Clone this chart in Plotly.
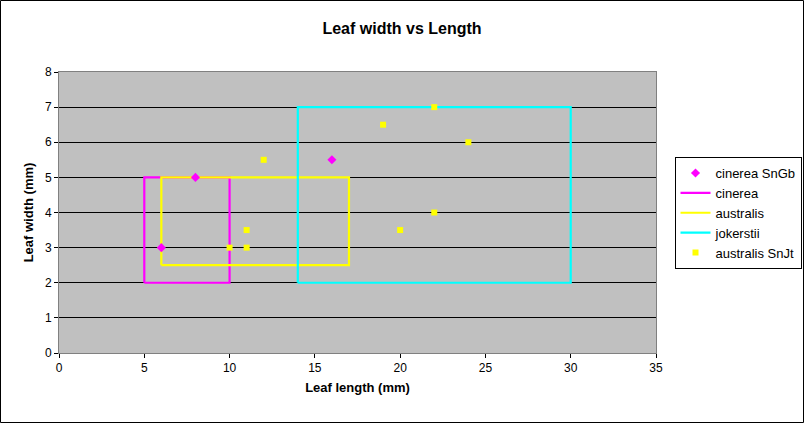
import plotly.graph_objects as go

# cinerea SnGb specimens
sngb_length = [6, 8, 16]
sngb_width = [3, 5, 5.5]

# australis SnJt specimens
snjt_length = [10, 11, 11, 12, 19, 20, 22, 22, 24]
snjt_width = [3, 3, 3.5, 5.5, 6.5, 3.5, 7, 4, 6]

# published ranges (length min/max, width min/max)
cinerea_len = [5, 10]
cinerea_wid = [2, 5]
australis_len = [6, 17]
australis_wid = [2.5, 5]
jokerstii_len = [14, 30]
jokerstii_wid = [2, 7]


def box(xr, yr):
    return [xr[0], xr[0], xr[1], xr[1], xr[0]], [yr[0], yr[1], yr[1], yr[0], yr[0]]


fig = go.Figure()

for name, xr, yr, col, rank in [
    ("cinerea", cinerea_len, cinerea_wid, "#FF00FF", 2),
    ("australis", australis_len, australis_wid, "#FFFF00", 3),
    ("jokerstii", jokerstii_len, jokerstii_wid, "#00FFFF", 4),
]:
    bx, by = box(xr, yr)
    fig.add_trace(go.Scatter(x=bx, y=by, mode="lines", name=name, legendrank=rank,
                             line=dict(color=col, width=2.2)))

fig.add_trace(go.Scatter(x=snjt_length, y=snjt_width, mode="markers", name="australis SnJt",
                         legendrank=5, marker=dict(symbol="square", size=6, color="#FFFF00")))
fig.add_trace(go.Scatter(x=sngb_length, y=sngb_width, mode="markers", name="cinerea SnGb",
                         legendrank=1, marker=dict(symbol="diamond", size=7, color="#FF00FF")))

fig.update_layout(
    width=804, height=423,
    margin=dict(l=59, r=148, t=72, b=70, autoexpand=False),
    paper_bgcolor="white",
    plot_bgcolor="#C0C0C0",
    font=dict(family="Arial, Liberation Sans", size=12, color="black"),
    title=dict(text="<b>Leaf width vs Length</b>", x=0.5, xanchor="center",
               y=1 - 28 / 423, yanchor="middle", font=dict(size=16)),
    showlegend=True,
    legend=dict(x=1.031, xanchor="left", y=0.6975, yanchor="top",
                bgcolor="white", bordercolor="black", borderwidth=1,
                font=dict(size=13), tracegroupgap=0, itemwidth=30),
    xaxis=dict(range=[0, 35], dtick=5, showgrid=False, zeroline=False,
               ticks="outside", ticklen=4, tickcolor="black",
               showline=True, linecolor="#808080", linewidth=1, mirror=True,
               title=dict(text="<b>Leaf length (mm)</b>", font=dict(size=13), standoff=8)),
    yaxis=dict(range=[0, 8], dtick=1, showgrid=True, gridcolor="black", gridwidth=1,
               zeroline=False, ticks="outside", ticklen=4, tickcolor="black",
               showline=True, linecolor="#808080", linewidth=1, mirror=True,
               title=dict(text="<b>Leaf width (mm)</b>", font=dict(size=13), standoff=8)),
    shapes=[dict(type="rect", xref="paper", yref="paper",
                 x0=-58.5 / 597, x1=(803.5 - 59) / 597,
                 y0=-69.5 / 281, y1=1 + 71.5 / 281,
                 line=dict(color="black", width=1), fillcolor="rgba(0,0,0,0)", layer="above")],
)

fig.write_html("out.html", config={"displayModeBar": False},
               post_script="document.body.style.margin='0';")
